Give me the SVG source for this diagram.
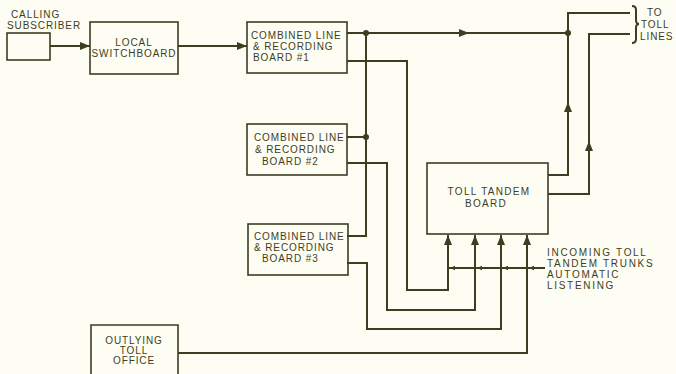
<svg xmlns="http://www.w3.org/2000/svg" width="676" height="374" viewBox="0 0 676 374">
<defs>
<style>
.bg{fill:#fdfdf4}
.box{fill:#fdfdf4;stroke:#3d3d22;stroke-width:1.6}
.ln{fill:none;stroke:#3d3d22;stroke-width:2}
.tx{font-family:"Liberation Sans",Arial,sans-serif;font-size:10px;fill:#3d3d22;letter-spacing:0.9px}
.wide{letter-spacing:1.7px}
.dot{fill:#3d3d22}
.ah{fill:#3d3d22}
</style>
<marker id="arr" viewBox="0 0 10 8" refX="10" refY="4" markerWidth="10" markerHeight="8" markerUnits="userSpaceOnUse" orient="auto">
<path d="M0,0 L10,4 L0,8 z" class="ah"/>
</marker>
</defs>
<rect class="bg" x="0" y="0" width="676" height="374"/>

<g id="calling-subscriber">
<rect class="box" x="7" y="33" width="43" height="27"/>
<text class="tx" x="11" y="18">CALLING</text>
<text class="tx" x="7" y="29">SUBSCRIBER</text>
</g>

<g id="local-switchboard">
<rect class="box" x="90" y="22" width="88" height="52"/>
<text class="tx" x="134" y="46" text-anchor="middle">LOCAL</text>
<text class="tx" x="134" y="57" text-anchor="middle">SWITCHBOARD</text>
</g>

<g id="board1">
<rect class="box" x="247" y="22" width="100" height="51"/>
<text class="tx" x="251" y="39">COMBINED LINE</text>
<text class="tx" x="253" y="50">&amp; RECORDING</text>
<text class="tx" x="253" y="61">BOARD   #1</text>
</g>

<g id="board2">
<rect class="box" x="247" y="124" width="100" height="51"/>
<text class="tx" x="254" y="141">COMBINED LINE</text>
<text class="tx" x="255" y="153">&amp; RECORDING</text>
<text class="tx" x="262" y="165">BOARD #2</text>
</g>

<g id="board3">
<rect class="box" x="248" y="224" width="100" height="51"/>
<text class="tx" x="254" y="240">COMBINED LINE</text>
<text class="tx" x="254" y="251">&amp; RECORDING</text>
<text class="tx" x="262" y="262">BOARD #3</text>
</g>

<g id="toll-tandem">
<rect class="box" x="427" y="163" width="121" height="71"/>
<text class="tx" x="489" y="195" text-anchor="middle" style="letter-spacing:1.3px">TOLL TANDEM</text>
<text class="tx" x="486" y="207" text-anchor="middle" style="letter-spacing:1.3px">BOARD</text>
</g>

<g id="outlying-toll-office">
<path class="box" d="M91,376 L91,325 L178,325 L178,376"/>
<text class="tx" x="134" y="344" text-anchor="middle">OUTLYING</text>
<text class="tx" x="134" y="354" text-anchor="middle">TOLL</text>
<text class="tx" x="134" y="364" text-anchor="middle">OFFICE</text>
</g>

<g id="toll-lines-label">
<path class="ln" stroke-width="1.3" d="M632,6 Q636,6 636,10 L636,20 Q636,24 639,24 Q636,24 636,28 L636,39 Q636,43 632,43"/>
<text class="tx" x="647" y="16">TO</text>
<text class="tx" x="641" y="28">TOLL</text>
<text class="tx" x="640" y="40">LINES</text>
</g>

<g id="incoming-label">
<text class="tx wide" x="547" y="256">INCOMING TOLL</text>
<text class="tx wide" x="547" y="267">TANDEM TRUNKS</text>
<text class="tx wide" x="547" y="278">AUTOMATIC</text>
<text class="tx wide" x="547" y="289">LISTENING</text>
</g>

<g id="connectors">
<line class="ln" x1="50" y1="46" x2="90" y2="46" marker-end="url(#arr)"/>
<line class="ln" x1="178" y1="46" x2="247" y2="46" marker-end="url(#arr)"/>
<line class="ln" x1="347" y1="33" x2="469" y2="33" marker-end="url(#arr)"/>
<line class="ln" x1="465" y1="33" x2="567" y2="33"/>
<line class="ln" x1="366" y1="33" x2="366" y2="236"/>
<line class="ln" x1="347" y1="137" x2="366" y2="137"/>
<polyline class="ln" points="347,236 367,236"/>
<polyline class="ln" points="347,61 407,61 407,290 448,290 448,235"/>
<polyline class="ln" points="347,163 387,163 387,310 475,310 475,235"/>
<polyline class="ln" points="347,263 367,263 367,329 501,329 501,235"/>
<polyline class="ln" points="178,353 527,353 527,235"/>
<line class="ln" x1="448" y1="250" x2="448" y2="235" marker-end="url(#arr)"/>
<line class="ln" x1="475" y1="250" x2="475" y2="235" marker-end="url(#arr)"/>
<line class="ln" x1="501" y1="250" x2="501" y2="235" marker-end="url(#arr)"/>
<line class="ln" x1="527" y1="250" x2="527" y2="235" marker-end="url(#arr)"/>
<polyline class="ln" points="548,175 568,175 568,13 630,13"/>
<polyline class="ln" points="548,194 589,194 589,34 630,34"/>
<line class="ln" x1="568" y1="120" x2="568" y2="102" marker-end="url(#arr)"/>
<line class="ln" x1="589" y1="160" x2="589" y2="141" marker-end="url(#arr)"/>
<line class="ln" stroke-width="1.3" x1="448" y1="268" x2="545" y2="268"/>
<path class="ah" d="M450,268 l5,-2.2 l0,4.4 z"/>
<path class="ah" d="M477,268 l5,-2.2 l0,4.4 z"/>
<path class="ah" d="M503,268 l5,-2.2 l0,4.4 z"/>
<path class="ah" d="M529,268 l5,-2.2 l0,4.4 z"/>
<circle class="dot" cx="366" cy="33" r="3"/>
<circle class="dot" cx="366" cy="137" r="3"/>
<circle class="dot" cx="568" cy="33" r="3"/>
</g>
</svg>
